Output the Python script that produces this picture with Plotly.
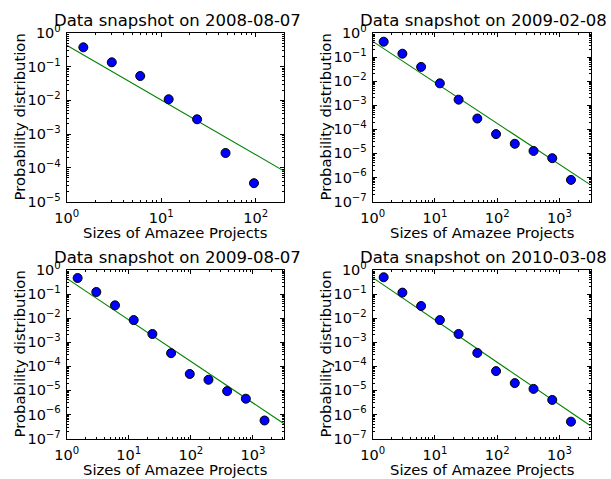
import plotly.graph_objects as go

W, H = 611, 479

titles = ["Data snapshot on 2008-08-07", "Data snapshot on 2009-02-08",
          "Data snapshot on 2009-08-07", "Data snapshot on 2010-03-08"]
x_label = "Sizes of Amazee Projects"
y_label = "Probability distribution"

# project sizes (bin centres)
sizes_2008_08 = [1.5, 3, 6, 12, 24, 48, 96]
sizes_later = [1.5, 3, 6, 12, 24, 48, 96, 192, 384, 768, 1536]

# probability distribution per snapshot
prob_2008_08 = [0.376, 0.135, 0.053, 0.0108, 0.00275, 2.75e-4, 3.5e-5]
prob_2009_02 = [0.435, 0.138, 0.039, 0.0081, 0.0017, 2.8e-4, 6.3e-5, 2.5e-5, 1.26e-5, 6.3e-6, 7.9e-7]
prob_2009_08 = [0.465, 0.122, 0.034, 0.0083, 0.0022, 3.5e-4, 4.8e-5, 2.75e-5, 9.3e-6, 4.5e-6, 5.6e-7]
prob_2010_03 = [0.5, 0.115, 0.032, 0.0083, 0.0022, 3.6e-4, 6.3e-5, 2.0e-5, 1.15e-5, 4.0e-6, 5.0e-7]

# fitted power-law lines (end points)
fit_x_2008_08 = [1, 200]
fit_y_2008_08 = [0.43, 8.0e-5]
fit_x_later = [1, 3162]
fit_y_2009_02 = [0.45, 4.9e-7]
fit_y_2009_08 = [0.45, 4.1e-7]
fit_y_2010_03 = [0.48, 3.4e-7]

# tick labels
x_tickvals_a = [1, 10, 100]
x_ticktext_a = ["10<sup>0</sup>", "10<sup>1</sup>", "10<sup>2</sup>"]
x_tickvals_b = [1, 10, 100, 1000]
x_ticktext_b = ["10<sup>0</sup>", "10<sup>1</sup>", "10<sup>2</sup>", "10<sup>3</sup>"]
y_tickvals_a = [1, 1e-1, 1e-2, 1e-3, 1e-4, 1e-5]
y_ticktext_a = ["10<sup>0</sup>", "10<sup>−1</sup>", "10<sup>−2</sup>", "10<sup>−3</sup>",
                "10<sup>−4</sup>", "10<sup>−5</sup>"]
y_tickvals_b = [1, 1e-1, 1e-2, 1e-3, 1e-4, 1e-5, 1e-6, 1e-7]
y_ticktext_b = ["10<sup>0</sup>", "10<sup>−1</sup>", "10<sup>−2</sup>", "10<sup>−3</sup>",
                "10<sup>−4</sup>", "10<sup>−5</sup>", "10<sup>−6</sup>", "10<sup>−7</sup>"]

FONT = "DejaVu Sans"

panels = [
    dict(x=sizes_2008_08, y=prob_2008_08, fx=fit_x_2008_08, fy=fit_y_2008_08,
         xr=[0, 2.3], yr=[-5, 0], xt=(x_tickvals_a, x_ticktext_a), yt=(y_tickvals_a, y_ticktext_a),
         box=(66.7, 284.0, 33.0, 201.5)),
    dict(x=sizes_later, y=prob_2009_02, fx=fit_x_later, fy=fit_y_2009_02,
         xr=[0, 3.5], yr=[-7, 0], xt=(x_tickvals_b, x_ticktext_b), yt=(y_tickvals_b, y_ticktext_b),
         box=(372.7, 590.5, 33.0, 201.5)),
    dict(x=sizes_later, y=prob_2009_08, fx=fit_x_later, fy=fit_y_2009_08,
         xr=[0, 3.5], yr=[-7, 0], xt=(x_tickvals_b, x_ticktext_b), yt=(y_tickvals_b, y_ticktext_b),
         box=(66.7, 284.0, 270.0, 438.5)),
    dict(x=sizes_later, y=prob_2010_03, fx=fit_x_later, fy=fit_y_2010_03,
         xr=[0, 3.5], yr=[-7, 0], xt=(x_tickvals_b, x_ticktext_b), yt=(y_tickvals_b, y_ticktext_b),
         box=(372.7, 590.5, 270.0, 438.5)),
]


def minor_vals(lo, hi):
    return [m * 10.0 ** k for k in range(lo, hi) for m in range(2, 10)]


fig = go.Figure()
layout = dict(
    width=W, height=H, margin=dict(l=0, r=0, t=0, b=0),
    paper_bgcolor="white", plot_bgcolor="white", showlegend=False,
    font=dict(family=FONT, color="black", size=14.5),
)
annotations = []

for i, p in enumerate(panels, start=1):
    xa = "x" if i == 1 else f"x{i}"
    ya = "y" if i == 1 else f"y{i}"
    fig.add_trace(go.Scatter(x=p["fx"], y=p["fy"], mode="lines", xaxis=xa, yaxis=ya,
                             line=dict(color="#008000", width=1.1), hoverinfo="skip"))
    fig.add_trace(go.Scatter(x=p["x"], y=p["y"], mode="markers", xaxis=xa, yaxis=ya,
                             marker=dict(color="#0000ff", size=9, line=dict(color="black", width=1)),
                             cliponaxis=False))
    x0, x1, y0, y1 = p["box"]
    common = dict(type="log", showgrid=False, zeroline=False, showline=True, linecolor="black",
                  linewidth=1, mirror="allticks", ticks="inside", ticklen=4, tickwidth=1,
                  tickcolor="black", automargin=False, tickfont=dict(family=FONT, size=14.5))
    layout["xaxis" if i == 1 else f"xaxis{i}"] = dict(
        common, domain=[x0 / W, x1 / W], range=p["xr"], anchor=ya,
        tickmode="array", tickvals=p["xt"][0], ticktext=p["xt"][1], ticklabelstandoff=3,
        minor=dict(ticks="inside", ticklen=2, tickwidth=1, tickcolor="black",
                   tickmode="array", tickvals=minor_vals(0, int(p["xr"][1]) + 1)))
    layout["yaxis" if i == 1 else f"yaxis{i}"] = dict(
        common, domain=[1 - y1 / H, 1 - y0 / H], range=p["yr"], anchor=xa,
        tickmode="array", tickvals=p["yt"][0], ticktext=p["yt"][1], ticklabelstandoff=2,
        minor=dict(ticks="inside", ticklen=2, tickwidth=1, tickcolor="black",
                   tickmode="array", tickvals=minor_vals(p["yr"][0], 0)))
    cx = (x0 + x1) / 2
    annotations.append(dict(text=titles[i - 1], x=(cx + 2) / W, y=1 - (y0 - 13) / H, xref="paper",
                            yref="paper", xanchor="center", yanchor="middle", showarrow=False,
                            font=dict(family=FONT, size=16.5)))
    annotations.append(dict(text=x_label, x=cx / W, y=1 - (y1 + 30.5) / H, xref="paper", yref="paper",
                            xanchor="center", yanchor="middle", showarrow=False,
                            font=dict(family=FONT, size=14.8)))
    annotations.append(dict(text=y_label, x=(x0 - 47.5) / W, y=1 - ((y0 + y1) / 2) / H, xref="paper",
                            yref="paper", xanchor="center", yanchor="middle", textangle=-90,
                            showarrow=False, font=dict(family=FONT, size=14.8)))

layout["annotations"] = annotations
fig.update_layout(**layout)
fig.write_html("out.html", config={"displayModeBar": False, "staticPlot": True},
               post_script="document.body.style.margin='0';document.body.style.overflow='hidden';")
